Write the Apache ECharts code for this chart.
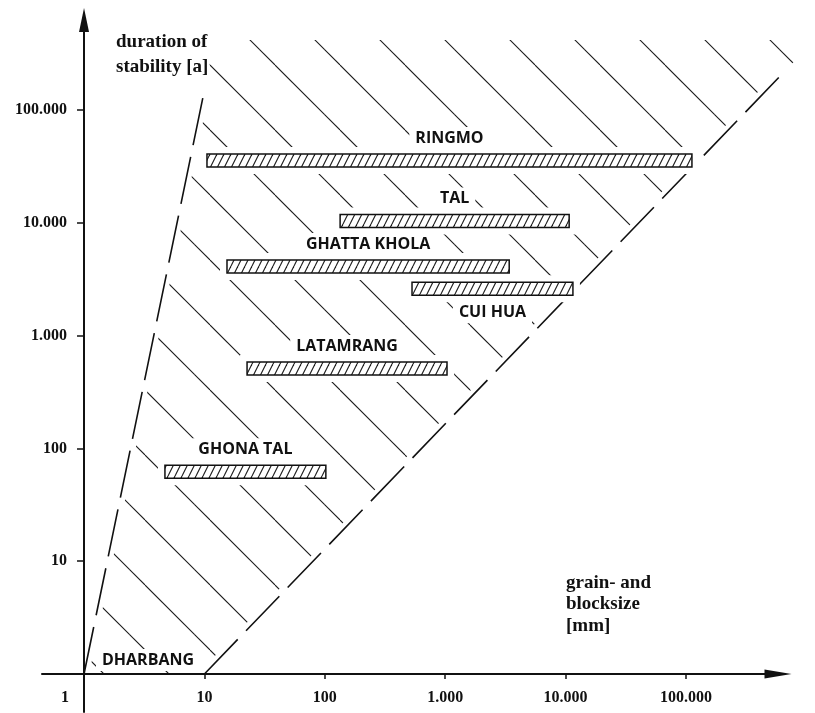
<!DOCTYPE html>
<html>
<head>
<meta charset="utf-8">
<script src="https://cdn.jsdelivr.net/npm/echarts@6/dist/echarts.min.js"></script>
<style>
  html, body { margin: 0; padding: 0; background: #fff; }
  #chart { width: 815px; height: 713px; }
</style>
</head>
<body>
<div id="chart"></div>
<script>
// Sites: range of grain- and blocksize [mm] and duration of stability [a]
const sites    = ['RINGMO', 'TAL', 'GHATTA KHOLA', 'CUI HUA', 'LATAMRANG', 'GHONA TAL'];
const grainMin = [10.5, 134, 15.4, 530, 22.6, 4.7];
const grainMax = [112000, 10700, 3400, 11500, 1035, 102];
const duration = [35600, 10400, 4100, 2600, 510, 62];
const labelsBelow = ['CUI HUA'];

// site without a bar, sitting next to the origin
const originSite = ['DHARBANG'];
const originGrain = [3.4];
const originDuration = [1.33];

// envelope of the stability field (grain size, duration)
const leftEdge  = [[1, 1], [10, 150000]];
const rightEdge = [[10, 1], [1175000, 417000]];

// axis ticks
const tickValues = [1, 10, 100, 1000, 10000, 100000];
const tickLabels = ['1', '10', '100', '1.000', '10.000', '100.000'];

const lg = Math.log10;
const tickLog = tickValues.map(lg);
const labelFor = v => tickLabels[tickLog.findIndex(t => Math.abs(t - v) < 1e-6)] || '';

// hatch patterns
function makePattern(w, h, width, draw) {
  const c = document.createElement('canvas');
  c.width = w; c.height = h;
  const g = c.getContext('2d');
  g.strokeStyle = '#1a1a1a';
  g.lineWidth = width;
  g.lineCap = 'butt';
  draw(g);
  return { image: c, repeat: 'repeat' };
}
// "\" strokes across the stability field
const fieldHatch = makePattern(65, 65, 1.1, g => {
  for (let k = -1; k <= 1; k++) {
    g.beginPath();
    g.moveTo(15 + 65 * k, 0);
    g.lineTo(15 + 65 * k + 65, 65);
    g.stroke();
  }
});
// "/" strokes inside the bars
const barHatch = makePattern(7, 14, 1.1, g => {
  for (let k = -1; k <= 1; k++) {
    g.beginPath();
    g.moveTo(7 * k, 14);
    g.lineTo(7 * k + 7, 0);
    g.stroke();
  }
});

// polygon of the hatched field (log space)
const topY = lg(rightEdge[1][1]);
const lSlope = (lg(leftEdge[1][1]) - lg(leftEdge[0][1])) / (lg(leftEdge[1][0]) - lg(leftEdge[0][0]));
const leftTopX = lg(leftEdge[0][0]) + (topY - lg(leftEdge[0][1])) / lSlope;
const fieldPoly = [
  [lg(leftEdge[0][0]), lg(leftEdge[0][1])],
  [leftTopX, topY],
  [lg(rightEdge[1][0]), topY],
  [lg(rightEdge[0][0]), lg(rightEdge[0][1])]
];

const edgeData = e => e.map(p => [lg(p[0]), lg(p[1])]);
const barData = sites.map((s, i) => [lg(grainMin[i]), lg(grainMax[i]), lg(duration[i])]);
const originData = originSite.map((n, i) => [lg(originGrain[i]), lg(originDuration[i])]);

const serif = 'Liberation Serif';
const siteFont = '700 16px "Open Sans"';
const BAR_H = 13;

// axis extents (log10 units) and grid placement
const X_MIN = -0.349, X_MAX = 5.764;
const Y_MIN = -0.337, Y_MAX = 5.798;
const GRID = { left: 42, right: 37, top: 20, bottom: 1 };
// the axes cross at value 1; labels are measured from the grid edge
const xAxisOffset = (0 - Y_MIN) / (Y_MAX - Y_MIN) * (713 - GRID.top - GRID.bottom);
const yAxisOffset = (0 - X_MIN) / (X_MAX - X_MIN) * (815 - GRID.left - GRID.right);

function barGeom(api) {
  const p0 = api.coord([api.value(0), api.value(2)]);
  const p1 = api.coord([api.value(1), api.value(2)]);
  return { x0: p0[0], x1: p1[0], yc: p0[1] };
}

function siteText(name, x, y) {
  return {
    type: 'text', x: x, y: y,
    style: {
      text: name, font: siteFont, fill: '#111',
      align: 'center', verticalAlign: 'middle',
      backgroundColor: '#fff', padding: [3, 6]
    }
  };
}

const chart = echarts.init(document.getElementById('chart'), null, { renderer: 'canvas' });

chart.setOption({
  backgroundColor: '#fff',
  animation: false,
  title: [
    {
      text: 'duration of\nstability [a]',
      left: 111, top: 25,
      textStyle: { fontFamily: serif, fontWeight: 'bold', fontSize: 19, lineHeight: 25, color: '#111' }
    },
    {
      text: 'grain- and\nblocksize\n[mm]',
      left: 561, top: 567,
      textStyle: { fontFamily: serif, fontWeight: 'bold', fontSize: 19, lineHeight: 21.5, color: '#111' }
    }
  ],
  grid: Object.assign({ outerBoundsMode: 'none', containLabel: false }, GRID),
  xAxis: {
    type: 'value',
    min: X_MIN, max: X_MAX,
    z: 10,
    splitLine: { show: false },
    axisLine: {
      onZero: true,
      symbol: ['none', 'triangle'], symbolSize: [9, 27],
      lineStyle: { color: '#111', width: 2 }
    },
    axisTick: { customValues: tickLog.slice(1), length: 5, lineStyle: { color: '#111', width: 1.5 } },
    axisLabel: {
      customValues: tickLog,
      margin: 16 - xAxisOffset,
      hideOverlap: false,
      formatter: v => Math.abs(v) < 1e-6 ? '{o|1}' : labelFor(v),
      fontFamily: serif, fontWeight: 'bold', fontSize: 16, color: '#111',
      rich: { o: { fontFamily: serif, fontWeight: 'bold', fontSize: 16, color: '#111', padding: [0, 38, 0, 0] } }
    }
  },
  yAxis: {
    type: 'value',
    min: Y_MIN, max: Y_MAX,
    z: 10,
    splitLine: { show: false },
    axisLine: {
      onZero: true,
      symbol: ['none', 'triangle'], symbolSize: [10, 24],
      lineStyle: { color: '#111', width: 2 }
    },
    axisTick: { customValues: tickLog.slice(1), length: 7, lineStyle: { color: '#111', width: 1.5 } },
    axisLabel: {
      customValues: tickLog.slice(1),
      margin: 17 - yAxisOffset,
      hideOverlap: false,
      formatter: v => labelFor(v),
      fontFamily: serif, fontWeight: 'bold', fontSize: 16, color: '#111'
    }
  },
  series: [
    {
      // hatched stability field
      type: 'custom', z: 1, silent: true, clip: false,
      data: [[0, 0]],
      renderItem: (params, api) => ({
        type: 'polygon',
        shape: { points: fieldPoly.map(p => api.coord(p)) },
        style: { fill: fieldHatch, stroke: null }
      })
    },
    // clear strip along the envelope
    {
      type: 'line', z: 2, silent: true, clip: false, symbol: 'none',
      data: edgeData(leftEdge), lineStyle: { color: '#fff', width: 10 }
    },
    {
      type: 'line', z: 2, silent: true, clip: false, symbol: 'none',
      data: edgeData(rightEdge), lineStyle: { color: '#fff', width: 10 }
    },
    // dashed envelope
    {
      type: 'line', z: 3, silent: true, clip: false, symbol: 'none',
      data: edgeData(leftEdge), lineStyle: { color: '#111', width: 1.6, type: [48, 12] }
    },
    {
      type: 'line', z: 3, silent: true, clip: false, symbol: 'none',
      data: edgeData(rightEdge), lineStyle: { color: '#111', width: 1.6, type: [48, 12] }
    },
    {
      // white margin around each bar
      type: 'custom', z: 4, silent: true, clip: false,
      data: barData,
      renderItem: (params, api) => {
        const g = barGeom(api);
        return {
          type: 'rect',
          shape: { x: g.x0 - 7, y: g.yc - BAR_H / 2 - 7, width: g.x1 - g.x0 + 14, height: BAR_H + 14 },
          style: { fill: '#fff' }
        };
      }
    },
    {
      // site bars with names
      type: 'custom', z: 5, silent: true, clip: false,
      data: barData,
      renderItem: (params, api) => {
        const g = barGeom(api);
        const name = sites[params.dataIndex];
        const below = labelsBelow.indexOf(name) >= 0;
        const ty = below ? g.yc + BAR_H / 2 + 17 : g.yc - BAR_H / 2 - 16;
        return {
          type: 'group',
          children: [
            {
              type: 'rect',
              shape: { x: g.x0, y: g.yc - BAR_H / 2, width: g.x1 - g.x0, height: BAR_H },
              style: { fill: barHatch, stroke: '#111', lineWidth: 1.5 }
            },
            siteText(name, (g.x0 + g.x1) / 2, ty)
          ]
        };
      }
    },
    {
      // site name without a bar
      type: 'custom', z: 6, silent: true, clip: false,
      data: originData,
      renderItem: (params, api) => {
        const p = api.coord([api.value(0), api.value(1)]);
        return siteText(originSite[params.dataIndex], p[0], p[1]);
      }
    }
  ]
});
</script>
</body>
</html>
